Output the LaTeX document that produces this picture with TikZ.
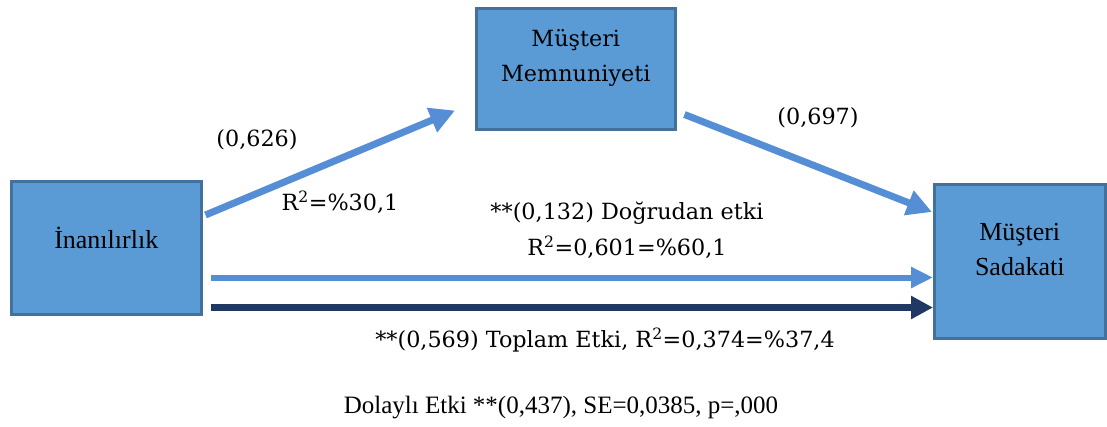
\documentclass[tikz,border=0pt]{standalone}
\usepackage{fontspec}
\setmainfont{Liberation Serif}
\newfontfamily\cam{DejaVu Serif}
\usetikzlibrary{arrows.meta,calc}
\definecolor{boxfill}{HTML}{5B9BD5}
\definecolor{boxline}{HTML}{41719C}
\definecolor{arrlight}{HTML}{558ED5}
\definecolor{arrdark}{HTML}{1F3864}
\tikzset{
  box/.style={draw=boxline, line width=2.5pt, fill=boxfill, anchor=north west, inner sep=0pt},
  boxtxt/.style={font=\fontsize{26}{35}\selectfont, align=center, inner sep=0pt},
  plaintxt/.style={font=\fontsize{25}{35}\selectfont, align=center, inner sep=0pt},
  camtxt/.style={font=\cam\fontsize{22.3}{35}\selectfont, align=center, inner sep=0pt},
  lbl/.style={font=\cam\fontsize{22.3}{36}\selectfont, align=center, inner sep=0pt},
  arrL/.style={draw=arrlight, line width=7pt, -{Triangle[length=25pt,width=25pt]}},
  arrH/.style={draw=arrlight, line width=6pt, -{Triangle[length=22pt,width=20pt]}},
  arrD/.style={draw=arrdark, line width=7pt, -{Triangle[length=22pt,width=22pt]}},
}
\begin{document}
\begin{tikzpicture}[x=1pt,y=-1pt]
\useasboundingbox (0,0) rectangle (1107,426);
\node[box, minimum width=190pt, minimum height=133pt] (ina) at (10,180) {};
\node[box, minimum width=199pt, minimum height=121pt] (mm) at (475,7) {};
\node[box, minimum width=171pt, minimum height=154pt] (ms) at (933,183) {};
\node[boxtxt] (inat) at ($(ina.center)+(0,-10)$) {İnanılırlık};
\node[camtxt] (mmt) at ($(mm.center)+(0,-11)$) {Müşteri\\Memnuniyeti};
\node[boxtxt] (mst) at ($(ms.center)+(0,-12)$) {Müşteri\\Sadakati};
\coordinate (a1s) at ($(ina.north east)+(3,35)$);
\coordinate (a1e) at ($(mm.south west)+(-20,-20)$);
\coordinate (a2s) at ($(mm.south east)+(8,-16)$);
\coordinate (a2e) at ($(ms.north west)+(-1,29)$);
\coordinate (a3s) at ($(ina.south east)+(8,-38)$);
\coordinate (a4s) at ($(ina.south east)+(8,-8)$);
\draw[arrL] (a1s) -- (a1e);
\draw[arrL] (a2s) -- (a2e);
\draw[arrH] (a3s) -- (ms.west |- a3s);
\draw[arrD] (a4s) -- (ms.west |- a4s);
\node[lbl] (l1) at (257,140) {(0,626)};
\node[lbl] (l2) at (340,202) {R\textsuperscript{2}=\%30,1};
\node[lbl] (l3) at (818,118) {(0,697)};
\node[lbl] (l4) at (627,230) {**(0,132) Doğrudan etki\\R\textsuperscript{2}=0,601=\%60,1};
\node[lbl] (l5) at (605,340) {**(0,569) Toplam Etki, R\textsuperscript{2}=0,374=\%37,4};
\node[plaintxt] (l6) at (561,408) {Dolaylı Etki **(0,437), SE=0,0385, p=,000};
\end{tikzpicture}
\end{document}
